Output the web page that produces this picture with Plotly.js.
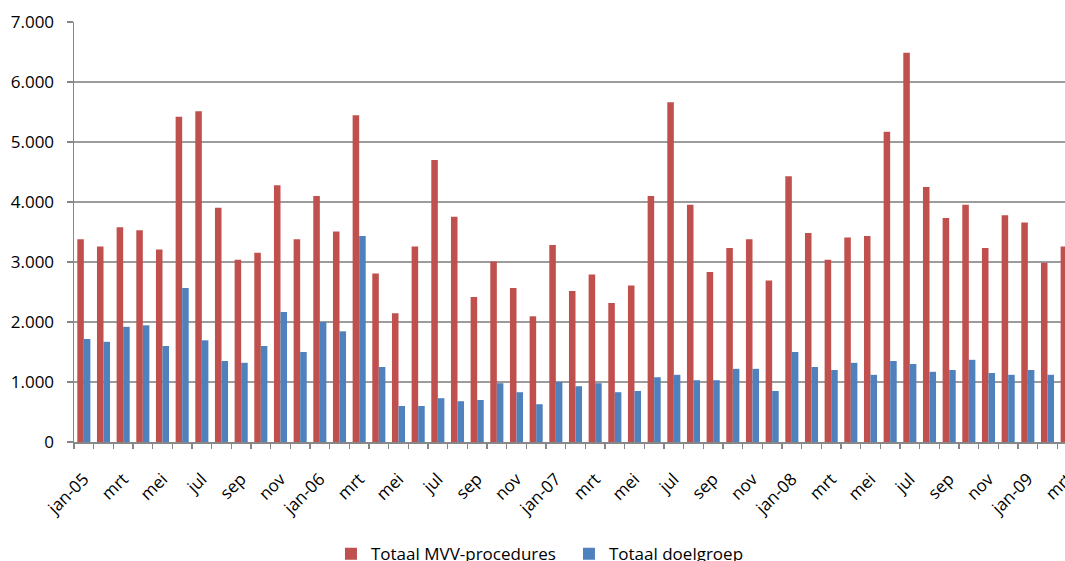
<!DOCTYPE html>
<html><head><meta charset="utf-8">
<script src="https://cdn.plot.ly/plotly-3.0.1.min.js"></script>
<style>html,body{margin:0;padding:0;overflow:hidden;background:#fff;width:1065px;height:561px}</style>
</head><body><div id="chart"></div>
<script>
const months = ["jan-05","feb","mrt","apr","mei","jun","jul","aug","sep","okt","nov","dec",
"jan-06","feb","mrt","apr","mei","jun","jul","aug","sep","okt","nov","dec",
"jan-07","feb","mrt","apr","mei","jun","jul","aug","sep","okt","nov","dec",
"jan-08","feb","mrt","apr","mei","jun","jul","aug","sep","okt","nov","dec",
"jan-09","feb","mrt"];
const mvv = [3380,3260,3580,3530,3210,5420,5515,3905,3040,3155,4280,3380,
4100,3510,5445,2810,2145,3260,4700,3755,2415,3010,2565,2095,
3285,2515,2790,2315,2610,4100,5665,3955,2835,3235,3380,2690,
4430,3485,3040,3410,3435,5170,6490,4250,3735,3955,3235,3780,
3660,2990,3260];
const doelgroep = [1717,1670,1920,1945,1600,2565,1695,1350,1320,1600,2165,1500,
2000,1845,3435,1250,600,600,730,680,700,980,830,630,
1000,930,980,830,850,1080,1120,1030,1030,1220,1220,850,
1500,1250,1200,1320,1120,1350,1300,1170,1200,1370,1150,1120,
1200,1120,null];
const seriesNames = ["Totaal MVV-procedures","Totaal doelgroep"];

const idx = months.map((m,i)=>i);
const tickIdx = idx.filter(i=>i%2===0);
const tickTxt = tickIdx.map(i=>months[i]);
const font = {family:"Open Sans, sans-serif", size:17, color:"#000"};
const axisCol = "#878787";

const traces = [
 {type:"bar", name:seriesNames[0], x:idx, y:mvv, marker:{color:"#C0504D"}},
 {type:"bar", name:seriesNames[1], x:idx, y:doelgroep, marker:{color:"#4F81BD"}}
];
const layout = {
 width:1087, height:620,
 margin:{l:74, r:10, t:22, b:178},
 paper_bgcolor:"#fff", plot_bgcolor:"#fff",
 font:font,
 separators:",.",
 barmode:"group", bargap:0.335, bargroupgap:0,
 showlegend:true,
 legend:{orientation:"h", x:0.2562, xanchor:"left", y:-0.267, yanchor:"middle", font:font,
  entrywidth:193, entrywidthmode:"pixels"},
 xaxis:{range:[-0.5,50.5], tickmode:"array", tickvals:tickIdx, ticktext:tickTxt, tickangle:-45,
  ticks:"", showgrid:false, zeroline:false, showline:true, linecolor:axisCol, linewidth:1.5,
  ticklabelstandoff:19,
  minor:{ticks:"outside", tickmode:"linear", tick0:-0.5, dtick:1, ticklen:5, tickcolor:axisCol, tickwidth:1.3, showgrid:false},
  tickfont:font, fixedrange:true},
 yaxis:{range:[0,7001], tickmode:"linear", tick0:0, dtick:1000, tickformat:",d",
  showgrid:true, gridcolor:"#9c9c9c", gridwidth:1.3, zeroline:false,
  showline:true, linecolor:axisCol, linewidth:1.5, ticks:"outside", ticklen:6, tickcolor:axisCol, tickwidth:1.3,
  ticklabelstandoff:9,
  tickfont:font, fixedrange:true}
};
Plotly.newPlot("chart", traces, layout, {displayModeBar:false, staticPlot:true});
</script></body></html>
